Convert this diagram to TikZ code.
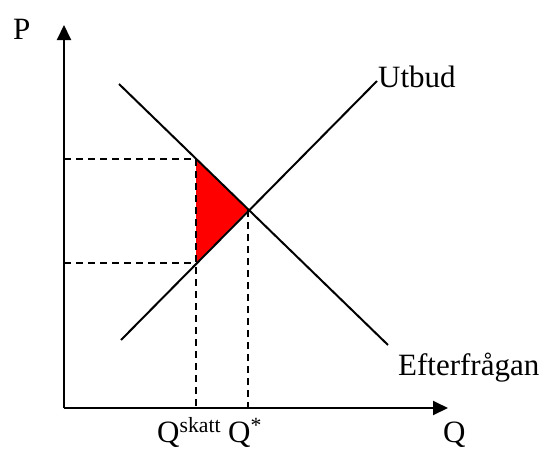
\documentclass[tikz,border=0pt]{standalone}
\usepackage{fontspec}
\setmainfont{Liberation Serif}
\usetikzlibrary{arrows.meta}
\begin{document}
\begin{tikzpicture}[x=1pt,y=-1pt,
  axis/.style={line width=2pt,-{Triangle[length=15pt,width=14pt]}},
  curve/.style={line width=2pt},
  guide/.style={line width=2pt,dash pattern=on 7pt off 5pt},
  lbl/.style={inner sep=0pt,anchor=base west,font=\fontsize{31}{36}\selectfont}]
\useasboundingbox (0,0) rectangle (544,450);
% key points
\coordinate (O) at (64,408);
\coordinate (Ytop) at (64,25);
\coordinate (Xend) at (448,408);
\coordinate (E) at (248,210);
\coordinate (T) at (196,159);
\coordinate (B) at (196,263);
\coordinate (S1) at (121,340);
\coordinate (S2) at (377,81);
\coordinate (D1) at (119,84);
\coordinate (D2) at (388,345);
\coordinate (yT) at (64,159);
\coordinate (yB) at (64,263);
\coordinate (xS) at (196,408);
\coordinate (xE) at (248,408);
% welfare loss triangle
\fill[red] (T) -- (B) -- (E) -- cycle;
% guides
\draw[guide] (yT) -- (T);
\draw[guide] (yB) -- (B);
\draw[guide] (T) -- (xS);
\draw[guide] (E) -- (xE);
% curves
\draw[curve] (S1) -- (S2);
\draw[curve] (D1) -- (D2);
% axes
\draw[axis] (O) -- (Ytop);
\draw[axis] (O) -- (Xend);
% labels
\node[lbl] (P) at (13,39) {P};
\node[lbl] (Q) at (443,442) {Q};
\node[lbl] (Qs) at (157,442) {Q\textsuperscript{skatt}};
\node[lbl] (Qst) at (228,442) {Q\textsuperscript{*}};
\node[lbl] (U) at (378,87) {Utbud};
\node[lbl] (Ef) at (398,375) {Efterfrågan};
\end{tikzpicture}
\end{document}
